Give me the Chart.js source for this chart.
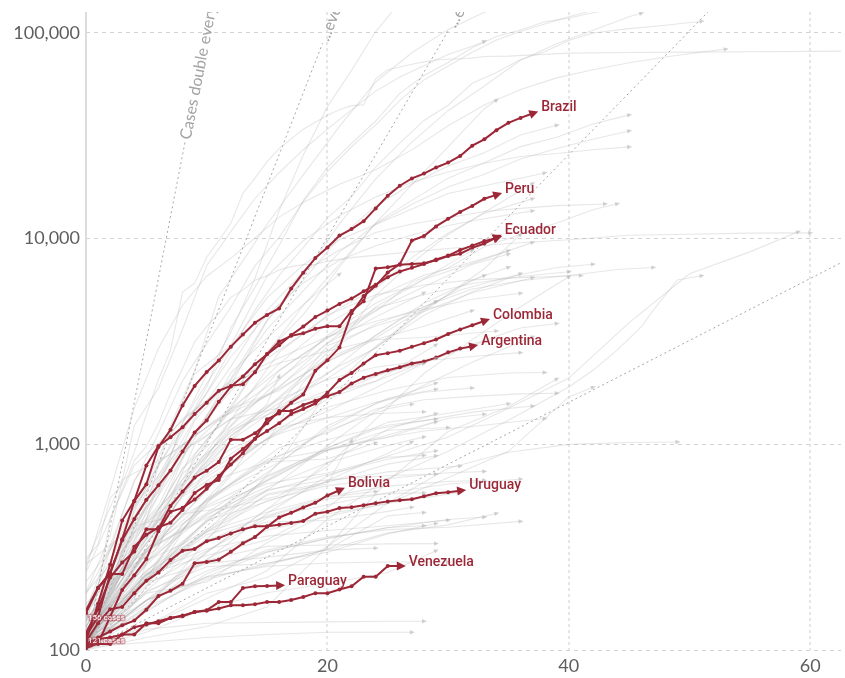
<!DOCTYPE html>
<html>
<head>
<meta charset="utf-8">
<script src="https://cdn.jsdelivr.net/npm/chart.js@4.4.1/dist/chart.umd.min.js"></script>
<style>
  html, body { margin: 0; padding: 0; background: #fff; }
  #wrap { width: 845px; height: 678px; }
</style>
</head>
<body>
<div id="wrap"><canvas id="chart" width="845" height="678"></canvas></div>
<script>
// Confirmed cases, counted in days since each country's 100th case (log scale).

// Axis ticks
const xTicks = [0, 20, 40, 60];
const yTicks = [100, 1000, 10000, 100000];

// Highlighted South American countries: one value per day since day 0
const brazil = [151, 200, 234, 346, 529, 640, 970, 1178, 1546, 1924, 2247, 2554, 2985, 3417, 3904, 4256, 4579, 5717, 6836, 8044, 9056, 10360, 11130, 12161, 14034, 16170, 18092, 19638, 20727, 22192, 23430, 25262, 28320, 30425, 33682, 36599, 38654, 40581];
const peru = [117, 145, 234, 234, 318, 363, 395, 416, 480, 580, 635, 671, 852, 950, 1065, 1323, 1414, 1595, 1746, 2281, 2561, 2954, 4342, 5256, 5897, 6848, 7519, 9784, 10303, 11475, 12491, 13489, 14420, 15628, 16325];
const ecuador = [111, 168, 260, 426, 532, 789, 981, 1082, 1211, 1403, 1595, 1823, 1924, 1962, 2240, 2748, 3163, 3368, 3465, 3646, 3747, 3747, 4450, 4965, 7161, 7257, 7466, 7529, 7603, 7858, 8225, 8450, 9022, 9468, 10128];
const chile = [156, 201, 238, 342, 434, 537, 632, 746, 922, 1142, 1306, 1610, 1909, 2139, 2449, 2738, 3031, 3404, 3737, 4161, 4471, 4815, 5116, 5546, 5972, 6501, 6927, 7213, 7525, 7917, 8273, 8807, 9252, 9730, 10088];
const colombia = [102, 108, 145, 196, 231, 277, 378, 470, 491, 539, 608, 702, 798, 906, 1065, 1161, 1267, 1406, 1485, 1579, 1780, 2054, 2223, 2473, 2709, 2776, 2852, 2979, 3105, 3233, 3439, 3621, 3792, 3977];
const argentina = [121, 158, 225, 266, 301, 387, 387, 502, 589, 690, 745, 820, 1054, 1054, 1133, 1265, 1451, 1451, 1554, 1628, 1715, 1795, 1975, 2110, 2200, 2290, 2370, 2470, 2530, 2640, 2800, 2920, 3000];
const bolivia = [107, 115, 123, 132, 139, 157, 183, 194, 210, 264, 268, 275, 300, 330, 354, 397, 441, 465, 493, 520, 564, 598];
const uruguay = [110, 135, 158, 162, 189, 217, 238, 274, 304, 310, 338, 350, 369, 386, 400, 400, 406, 415, 424, 460, 470, 490, 494, 506, 517, 528, 535, 541, 559, 578, 585, 595];
const venezuela = [106, 107, 107, 119, 119, 135, 135, 143, 146, 153, 155, 159, 165, 165, 167, 171, 171, 175, 181, 189, 189, 197, 204, 227, 227, 256, 256];
const paraguay = [104, 113, 115, 119, 129, 133, 138, 143, 147, 153, 156, 171, 171, 200, 204, 205, 206];

const highlightNames = ['Brazil', 'Peru', 'Ecuador', 'Chile', 'Colombia', 'Argentina', 'Bolivia', 'Uruguay', 'Venezuela', 'Paraguay'];
const highlightValues = [brazil, peru, ecuador, chile, colombia, argentina, bolivia, uruguay, venezuela, paraguay];
const labelledNames = ['Brazil', 'Peru', 'Ecuador', 'Colombia', 'Argentina', 'Bolivia', 'Uruguay', 'Venezuela', 'Paraguay'];

// Other countries, as [day, cases] pairs
const usa = [[0,118],[2,217],[4,417],[6,589],[8,1281],[10,2179],[12,3499],[14,6421],[16,13677],[18,25489],[20,43847],[22,65778],[24,101657],[26,140886]];
const spain = [[0,120],[3,282],[5,500],[7,1231],[9,2277],[11,5232],[13,7798],[15,11748],[18,20410],[21,35136],[24,57786],[27,80110],[30,104118],[33,126168],[36,141942]];
const italy = [[0,155],[2,322],[4,655],[6,1128],[8,2036],[10,3089],[12,4636],[14,7375],[16,10149],[18,15113],[20,21157],[22,27980],[24,35713],[26,47021],[28,59138],[30,69176],[32,80589],[34,92472],[36,101739],[38,110574],[40,119827],[42,128948],[44,135586]];
const germany = [[0,130],[2,196],[4,482],[6,795],[8,1176],[10,1908],[12,3675],[14,5813],[16,9257],[18,15320],[20,22213],[22,29056],[24,37323],[26,50871],[28,62095],[30,71808],[32,84794],[34,96092],[36,103375],[38,113296],[40,118181],[42,125452],[44,131359]];
const france = [[0,100],[2,191],[4,285],[6,653],[8,1209],[10,1784],[12,2876],[14,4480],[16,6633],[18,9043],[20,12612],[22,16018],[24,22304],[26,29155],[28,37575],[30,44550],[32,56989],[34,64338],[36,74390],[38,81000],[40,92000],[42,100000],[45,105000],[48,109000],[51,114000]];
const uk = [[0,115],[3,273],[6,459],[9,1140],[12,1950],[15,3983],[18,6650],[21,11812],[24,19522],[27,29474],[30,41903],[33,55242],[36,73758],[39,88621],[42,103093],[45,120067],[46,124743]];
const turkey = [[0,191],[2,359],[4,1236],[6,1872],[8,3629],[10,7402],[12,10827],[14,15679],[16,20921],[18,27069],[20,34109],[22,42282],[24,52167],[26,61049],[28,69392],[30,78546],[32,86306],[33,90980]];
const iran = [[0,245],[2,593],[4,1501],[6,2922],[8,4747],[10,6566],[12,8042],[14,10075],[16,12729],[18,14991],[21,18407],[24,21638],[27,27017],[30,35408],[33,44605],[36,53183],[39,60500],[42,66220],[45,71686],[48,76389],[51,80868],[53,83505]];
const russia = [[0,114],[3,253],[6,438],[9,840],[12,1534],[15,2777],[18,4731],[21,7497],[24,11917],[27,18328],[30,27938],[33,42853],[34,47121]];
const china = [[0,278],[1,326],[2,547],[3,639],[4,916],[5,1399],[6,2062],[7,2863],[8,5494],[9,6070],[10,8124],[11,9783],[12,11871],[13,16607],[14,19693],[15,23680],[16,27409],[17,30553],[18,34075],[19,36778],[20,39790],[21,42306],[22,44327],[23,44699],[24,59832],[25,66292],[26,68347],[27,70446],[28,72364],[29,74139],[30,74546],[31,74999],[32,75472],[33,76922],[35,77152],[40,79826],[45,80422],[50,80757],[55,81003],[60,81439],[65,81897],[70,82361],[80,82665],[90,83817]];
const belgium = [[0,169],[3,239],[6,314],[9,886],[12,1486],[15,2815],[18,4269],[21,7284],[24,11899],[27,15348],[30,19691],[33,23403],[36,28018],[39,31119],[42,36138],[45,39983]];
const netherlands = [[0,128],[3,321],[6,503],[9,1138],[12,2051],[15,3631],[18,5580],[21,8603],[24,11750],[27,14697],[30,17851],[33,20549],[36,24413],[39,27419],[42,30449],[45,33405]];
const switzerland = [[0,214],[3,374],[6,858],[9,2200],[12,3028],[15,6575],[18,9765],[21,12928],[24,15922],[27,18827],[30,21100],[33,23280],[36,25107],[39,25936],[42,27078],[45,27944]];
const canada = [[0,117],[3,252],[6,569],[9,1302],[12,2088],[15,4018],[18,6280],[21,10132],[24,14426],[27,18447],[30,22559],[33,26163],[36,31927],[39,35632]];
const portugal = [[0,112],[3,331],[6,785],[9,1600],[12,2995],[15,5170],[18,7443],[21,9886],[24,11730],[27,13956],[30,16585],[33,18091],[36,19685],[38,20863]];
const austria = [[0,104],[3,246],[6,655],[9,1332],[12,2388],[15,4486],[18,6909],[21,8813],[24,10711],[27,11781],[30,12640],[33,13560],[36,14041],[39,14476],[43,14749]];
const israel = [[0,143],[3,324],[6,705],[9,1442],[12,2666],[15,4247],[18,6092],[21,7851],[24,9248],[27,10408],[30,11586],[33,12501],[37,13654]];
const sweden = [[0,161],[3,355],[6,814],[9,1103],[12,1439],[15,1906],[18,2526],[21,3447],[24,4435],[27,6131],[30,7206],[33,9141],[36,10483],[39,11927],[42,13822],[44,14777]];
const ireland = [[0,129],[3,292],[6,683],[9,1125],[12,1819],[15,2615],[18,3447],[21,4604],[24,5709],[27,8089],[30,10647],[33,13271],[37,15652]];
const india = [[0,102],[3,142],[6,244],[9,468],[12,724],[15,1024],[18,1998],[21,3082],[24,5311],[27,7600],[30,10453],[33,13430],[37,18539]];
const saudiArabia = [[0,103],[3,238],[6,392],[9,767],[12,1104],[15,1453],[18,1885],[21,2402],[24,2932],[27,4033],[30,5369],[33,7142],[36,10484]];
const belarus = [[0,152],[3,304],[6,562],[9,1066],[12,2226],[15,3281],[18,4779],[21,6723]];
const mexico = [[0,118],[3,251],[6,405],[9,717],[12,1094],[15,1510],[18,2143],[21,3181],[24,4661],[27,5847],[30,7497],[32,8772]];
const japan = [[0,105],[5,189],[10,274],[15,461],[20,701],[25,878],[30,1086],[35,1499],[40,2100],[45,3906],[50,6748],[55,8626],[59,10797]];
const southKorea = [[0,104],[1,204],[2,433],[3,602],[4,833],[5,977],[6,1261],[7,1766],[8,2337],[9,3150],[10,3736],[11,4335],[12,5186],[13,5621],[14,6284],[15,6593],[16,7041],[17,7313],[18,7478],[19,7513],[20,7755],[22,8086],[25,8413],[30,8961],[35,9478],[40,9887],[45,10384],[50,10512],[55,10635],[60,10674]];
const singapore = [[0,106],[5,130],[10,178],[15,243],[20,432],[25,683],[30,926],[35,1309],[40,1900],[42,2290],[44,2870],[46,3720],[47,4490],[49,6300],[51,6600]];
const malaysia = [[0,238],[4,790],[8,1306],[12,2031],[16,2626],[20,3333],[24,3963],[28,4530],[32,5072],[36,5425]];
const australia = [[0,107],[4,249],[8,568],[12,1314],[16,2799],[20,4245],[24,5330],[28,5956],[32,6303],[36,6462],[41,6619]];
const norway = [[0,108],[4,176],[6,400],[9,996],[12,1333],[16,1914],[20,2863],[24,3845],[28,4665],[32,5687],[36,6244],[40,6623],[44,7078],[47,7241]];
const denmark = [[0,264],[3,674],[7,898],[11,1337],[15,1724],[19,2366],[23,3107],[27,4369],[31,5635],[35,6511],[39,7242],[42,7515]];
const czechia = [[0,116],[4,298],[8,765],[12,1236],[16,2279],[20,3308],[24,4587],[28,5335],[32,6059],[36,6549],[40,6900]];
const poland = [[0,103],[4,287],[8,634],[12,1221],[16,2055],[20,3383],[24,4848],[28,6356],[32,7582],[37,9593]];
const romania = [[0,139],[4,308],[8,762],[12,1452],[16,2460],[20,3864],[24,5202],[28,6633],[32,7707],[35,8746]];
const qatar = [[0,262],[4,401],[8,460],[12,494],[16,562],[20,781],[24,1325],[28,2210],[32,3231],[36,4663],[40,6533]];
const pakistan = [[0,187],[4,501],[8,991],[12,1495],[16,2291],[20,3277],[24,4489],[28,5837],[32,7481],[35,8418]];
const uae = [[0,113],[4,140],[8,248],[12,468],[16,814],[20,1799],[24,2990],[28,4521],[32,6302],[35,7265]];
const indonesia = [[0,117],[4,309],[8,579],[12,1046],[16,1528],[20,2092],[24,2956],[28,4241],[32,5516],[36,6760]];
const philippines = [[0,111],[4,202],[8,380],[12,707],[16,1546],[20,3018],[24,3764],[28,4428],[32,5453],[37,6459]];
const serbia = [[0,103],[4,249],[8,457],[12,785],[16,1476],[20,2200],[24,3380],[28,4873],[33,6630]];
const ukraine = [[0,113],[4,311],[8,645],[12,1319],[16,1892],[20,3102],[24,4161],[28,5449]];
const dominicanRepublic = [[0,112],[4,392],[8,901],[12,1488],[16,1828],[20,2620],[24,3286],[29,4964]];
const panama = [[0,137],[4,345],[8,674],[12,1181],[16,1673],[20,2528],[24,3234],[28,3751],[32,4467]];
const finland = [[0,155],[4,272],[8,450],[12,792],[16,1167],[20,1446],[24,1882],[28,2487],[32,3064],[36,3681],[39,3868]];
const luxembourg = [[0,140],[4,670],[8,1333],[12,1988],[16,2487],[20,2843],[24,3223],[28,3307],[34,3558]];
const greece = [[0,190],[5,418],[10,695],[15,1061],[20,1514],[25,1832],[30,2114],[35,2224],[38,2235]];
const thailand = [[0,114],[4,272],[8,721],[12,1136],[16,1651],[20,2067],[24,2369],[28,2551],[32,2672],[36,2792]];
const iceland = [[0,103],[4,180],[8,409],[12,648],[16,963],[20,1135],[24,1486],[28,1648],[32,1711],[36,1760],[39,1771]];
const egypt = [[0,110],[4,196],[8,327],[12,456],[16,656],[20,985],[24,1450],[28,1939],[32,2505],[37,3333]];
const morocco = [[0,115],[4,275],[8,556],[12,791],[16,1184],[20,1661],[24,2024],[29,3046]];
const southAfrica = [[0,116],[4,402],[8,927],[12,1326],[16,1505],[20,1749],[24,2028],[28,2506],[33,3158]];
const algeria = [[0,139],[4,302],[8,584],[12,1171],[16,1468],[20,1825],[24,2160],[29,2629]];
const croatia = [[0,105],[4,315],[8,586],[12,867],[16,1126],[20,1343],[24,1600],[28,1791],[32,1881]];
const estonia = [[0,115],[4,258],[8,326],[12,538],[16,715],[20,961],[24,1185],[28,1304],[32,1434],[37,1535]];
const slovenia = [[0,141],[4,275],[8,383],[12,528],[16,730],[20,934],[24,1059],[28,1160],[32,1220],[38,1335]];
const hungary = [[0,131],[4,261],[8,447],[12,623],[16,817],[20,1190],[24,1579],[29,1984]];
const newZealand = [[0,102],[4,368],[8,647],[12,950],[16,1210],[20,1349],[24,1409],[28,1440]];
const bahrain = [[0,109],[5,189],[10,214],[15,332],[20,458],[25,515],[30,688],[35,925],[40,1700],[42,1895]];
const kuwait = [[0,100],[5,130],[10,189],[15,225],[20,317],[25,665],[30,1154],[35,1524],[39,2080]];
const hongKong = [[0,100],[5,115],[10,130],[15,162],[20,318],[25,518],[30,765],[35,915],[40,1000],[45,1021],[49,1026]];
const lebanon = [[0,110],[5,206],[10,304],[15,438],[20,508],[25,582],[30,641],[36,677]];
const iraq = [[0,124],[5,233],[10,382],[15,694],[20,961],[25,1279],[30,1415],[35,1574]];
const jordan = [[0,112],[5,235],[10,310],[15,358],[20,381],[25,402],[30,428]];
const sriLanka = [[0,102],[5,122],[10,159],[15,190],[20,210],[25,238],[29,304]];
const vietnam = [[0,113],[5,174],[10,227],[15,255],[20,265],[25,268],[30,268]];
const tunisia = [[0,114],[5,312],[10,495],[15,643],[20,726],[25,866],[28,884]];
const senegal = [[0,105],[5,162],[10,219],[15,265],[20,299],[25,367],[29,412]];
const cyprus = [[0,116],[5,230],[10,426],[15,526],[20,662],[25,735],[31,784]];
const bulgaria = [[0,127],[5,242],[10,422],[15,593],[20,713],[25,846],[29,929]];
const lithuania = [[0,105],[5,299],[10,537],[15,843],[20,1053],[25,1239],[29,1326]];
const latvia = [[0,111],[5,244],[10,376],[15,533],[20,630],[25,682],[30,727],[33,739]];
const bosnia = [[0,126],[5,258],[10,504],[15,704],[20,946],[25,1083],[29,1285]];
const northMacedonia = [[0,114],[5,219],[10,430],[15,663],[20,938],[25,1170],[30,1207]];
const albania = [[0,104],[5,174],[10,277],[15,383],[20,446],[25,518],[31,584]];
const moldova = [[0,109],[5,263],[10,752],[15,1174],[20,1712],[25,2264],[28,2472]];
const armenia = [[0,115],[5,265],[10,532],[15,833],[20,937],[25,1111],[30,1339],[33,1401]];
const kazakhstan = [[0,111],[5,302],[10,464],[15,727],[20,1232],[25,1676],[29,1852]];
const cuba = [[0,119],[5,269],[10,457],[15,620],[20,814],[25,986],[28,1087]];
const costaRica = [[0,113],[5,231],[10,375],[15,467],[20,558],[25,626],[30,660],[33,669]];
const honduras = [[0,110],[5,222],[10,343],[15,419],[20,426],[25,472],[27,494]];
const afghanistan = [[0,106],[5,174],[10,299],[15,484],[20,665],[25,906],[27,1026]];
const uzbekistan = [[0,104],[5,227],[10,545],[15,813],[20,1165],[25,1490],[27,1565]];
const bangladesh = [[0,123],[5,330],[10,803],[15,1572],[16,2144]];
const ghana = [[0,137],[5,214],[10,378],[15,566],[20,641],[22,1042]];
const malta = [[0,107],[5,156],[10,227],[15,299],[20,350],[25,393],[30,431],[33,443]];
const andorra = [[0,113],[5,308],[10,439],[15,601],[20,673],[25,704],[29,717]];
const sanMarino = [[0,101],[5,175],[10,224],[15,259],[20,308],[25,371],[30,406],[34,461]];
const georgia = [[0,103],[5,174],[10,242],[15,300],[20,348],[25,394],[28,402]];
const burkinaFaso = [[0,114],[5,222],[10,364],[15,443],[20,542],[25,576],[28,581]];
const coteDIvoire = [[0,101],[5,194],[10,349],[15,574],[20,654],[25,801],[29,879]];
const cameroon = [[0,113],[5,306],[10,650],[15,820],[20,848],[24,1017]];
const mauritius = [[0,102],[5,161],[10,273],[15,319],[20,324],[25,328],[29,329]];
const cambodia = [[0,103],[5,109],[10,115],[15,119],[20,122],[25,122],[27,122]];
const brunei = [[0,104],[5,126],[10,135],[15,136],[20,137],[25,138],[28,138]];
const kyrgyzstan = [[0,107],[5,216],[10,339],[15,449],[20,554],[24,590]];
const oman = [[0,109],[5,167],[10,298],[15,484],[20,813],[25,1180],[29,1410]];
const palestine = [[0,109],[5,193],[10,254],[15,263],[20,308],[25,449],[28,466]];
const nigeria = [[0,111],[5,232],[10,288],[15,343],[20,493],[23,665]];
const montenegro = [[0,109],[5,214],[10,263],[15,283],[20,306],[24,313]];
const taiwan = [[0,100],[5,153],[10,235],[15,306],[20,355],[25,385],[30,395],[36,422]];

const otherCountries = [usa, spain, italy, germany, france, uk, turkey, iran, russia, china, belgium, netherlands,
  switzerland, canada, portugal, austria, israel, sweden, ireland, india, saudiArabia, belarus, mexico, japan,
  southKorea, singapore, malaysia, australia, norway, denmark, czechia, poland, romania, qatar, pakistan, uae,
  indonesia, philippines, serbia, ukraine, dominicanRepublic, panama, finland, luxembourg, greece, thailand,
  iceland, egypt, morocco, southAfrica, algeria, croatia, estonia, slovenia, hungary, newZealand, bahrain,
  kuwait, hongKong, lebanon, iraq, jordan, sriLanka, vietnam, tunisia, senegal, cyprus, bulgaria, lithuania,
  latvia, bosnia, northMacedonia, albania, moldova, armenia, kazakhstan, cuba, costaRica, honduras, afghanistan,
  uzbekistan, bangladesh, ghana, malta, andorra, sanMarino, georgia, burkinaFaso, coteDIvoire, cameroon,
  mauritius, cambodia, brunei, kyrgyzstan, oman, palestine, nigeria, montenegro, taiwan];

// Doubling-time guides: period in days, and the day at which each label begins
const guidePeriods = [1, 2, 3, 5, 10];
const guideLabels = ['Cases double every day', '...every 2 days', '...every 3 days', '', ''];
const guideLabelDays = [8.2, 19.6, 30.1, 70, 70];

// Starting-value notes on the y axis
const startNoteValues = [156, 121];
const startNoteTexts = ['156 cases', '121 cases'];

const RED = '#9c2737';
const GRAY_LINE = 'rgba(175,175,175,0.30)';
const GRAY_HEAD = 'rgba(175,175,175,0.55)';

const datasets = [];

guidePeriods.forEach((k, i) => {
  const end = guideLabelDays[i];
  datasets.push({
    kind: 'guide', guideIndex: i,
    data: [{ x: 0, y: 100 }, { x: end, y: 100 * Math.pow(2, end / k) }],
    borderColor: '#a6a6a6', borderWidth: 1, borderDash: [2, 3],
    pointRadius: 0, fill: false, order: 3
  });
});

otherCountries.forEach(series => {
  datasets.push({
    kind: 'other',
    data: series.map(p => ({ x: p[0], y: p[1] })),
    borderColor: GRAY_LINE, borderWidth: 1.1,
    pointRadius: 0, fill: false, order: 2
  });
});

highlightValues.forEach((vals, i) => {
  datasets.push({
    kind: 'highlight', name: highlightNames[i],
    data: vals.map((v, d) => ({ x: d, y: v })),
    borderColor: RED, borderWidth: 2,
    pointRadius: 2, pointBackgroundColor: RED, pointBorderWidth: 0,
    fill: false, order: 1
  });
});

function drawHead(ctx, tipX, tipY, ang, len, half, color) {
  ctx.save();
  ctx.translate(tipX, tipY);
  ctx.rotate(ang);
  ctx.beginPath();
  ctx.moveTo(0, 0);
  ctx.lineTo(-len, -half);
  ctx.lineTo(-len, half);
  ctx.closePath();
  ctx.fillStyle = color;
  ctx.fill();
  ctx.restore();
}

const axisLine = {
  id: 'axisLine',
  beforeDatasetsDraw(chart) {
    const { ctx, chartArea: a } = chart;
    ctx.save();
    ctx.strokeStyle = '#dcdcdc';
    ctx.lineWidth = 2;
    ctx.beginPath();
    ctx.moveTo(a.left, a.top);
    ctx.lineTo(a.left, a.bottom);
    ctx.stroke();
    ctx.restore();
  }
};

const annotations = {
  id: 'annotations',
  afterDatasetsDraw(chart) {
    const { ctx, chartArea: a, scales: { x, y } } = chart;
    ctx.save();
    ctx.beginPath();
    ctx.rect(a.left, a.top, a.right - a.left, a.bottom - a.top);
    ctx.clip();

    // guide labels, rotated along their lines
    chart.data.datasets.forEach((ds, i) => {
      if (ds.kind !== 'guide') return;
      const text = guideLabels[ds.guideIndex];
      if (!text) return;
      const pts = chart.getDatasetMeta(i).data;
      const p0 = pts[0], p1 = pts[1];
      const ang = Math.atan2(p1.y - p0.y, p1.x - p0.x);
      ctx.save();
      ctx.translate(p1.x, p1.y);
      ctx.rotate(ang);
      ctx.font = '16px Lato';
      ctx.fillStyle = '#a3a3a3';
      ctx.textAlign = 'left';
      ctx.textBaseline = 'middle';
      ctx.fillText(text, 3, 0);
      ctx.restore();
    });

    // arrow heads of the grey lines
    chart.data.datasets.forEach((ds, i) => {
      if (ds.kind !== 'other') return;
      const pts = chart.getDatasetMeta(i).data;
      const n = pts.length;
      const p = pts[n - 1], q = pts[n - 2];
      const ang = Math.atan2(p.y - q.y, p.x - q.x);
      drawHead(ctx, p.x + Math.cos(ang) * 3, p.y + Math.sin(ang) * 3, ang, 5, 2.2, GRAY_HEAD);
    });

    // arrow heads and names of the highlighted countries
    chart.data.datasets.forEach((ds, i) => {
      if (ds.kind !== 'highlight') return;
      const pts = chart.getDatasetMeta(i).data;
      const n = pts.length;
      const p = pts[n - 1], q = pts[n - 2];
      const ang = Math.atan2(p.y - q.y, p.x - q.x);
      const tx = p.x + Math.cos(ang) * 6, ty = p.y + Math.sin(ang) * 6;
      drawHead(ctx, tx, ty, ang, 9, 4.5, RED);
      if (labelledNames.includes(ds.name)) {
        ctx.font = '500 14px Roboto';
        ctx.fillStyle = RED;
        ctx.textAlign = 'left';
        ctx.textBaseline = 'middle';
        ctx.fillText(ds.name, tx + 3, ty - 4);
      }
    });

    // notes for the starting values
    startNoteValues.forEach((v, i) => {
      const px = x.getPixelForValue(0) + 2;
      const py = y.getPixelForValue(v) + 8;
      ctx.font = '8px Roboto';
      ctx.textAlign = 'left';
      ctx.textBaseline = 'middle';
      ctx.lineJoin = 'round';
      ctx.lineWidth = 3;
      ctx.strokeStyle = 'rgba(170,60,75,0.45)';
      ctx.strokeText(startNoteTexts[i], px, py);
      ctx.fillStyle = '#ffffff';
      ctx.fillText(startNoteTexts[i], px, py);
    });
    ctx.restore();
  }
};

new Chart(document.getElementById('chart'), {
  type: 'line',
  data: { datasets },
  options: {
    responsive: false,
    animation: false,
    devicePixelRatio: 1,
    events: [],
    layout: { padding: { top: 12, right: 0, bottom: 0, left: 0 } },
    plugins: { legend: { display: false }, tooltip: { enabled: false } },
    elements: { line: { tension: 0 } },
    scales: {
      x: {
        type: 'linear', min: 0, max: 62.55,
        afterBuildTicks: s => { s.ticks = xTicks.map(v => ({ value: v })); },
        afterFit: s => { s.height = 28; s.paddingLeft = 0; s.paddingRight = 0; },
        ticks: { padding: 5, color: '#5e5e5e', font: { family: 'Lato', size: 18 }, callback: v => String(v) },
        grid: {
          drawTicks: false, lineWidth: 2,
          color: c => (c.tick && c.tick.value === 0) ? 'rgba(0,0,0,0)' : '#e6e6e6'
        },
        border: { display: false, dash: [3, 3] }
      },
      y: {
        type: 'logarithmic', min: 100, max: 126500,
        afterBuildTicks: s => { s.ticks = yTicks.map(v => ({ value: v })); },
        afterFit: s => { s.width = 86; s.paddingTop = 0; s.paddingBottom = 0; },
        ticks: { padding: 6, color: '#5e5e5e', font: { family: 'Lato', size: 18 },
          callback: v => Number(v).toLocaleString('en-US') },
        grid: { drawTicks: false, lineWidth: 1, color: '#d2d2d2' },
        border: { display: false, dash: [4, 4] }
      }
    }
  },
  plugins: [axisLine, annotations]
});
</script>
</body>
</html>
